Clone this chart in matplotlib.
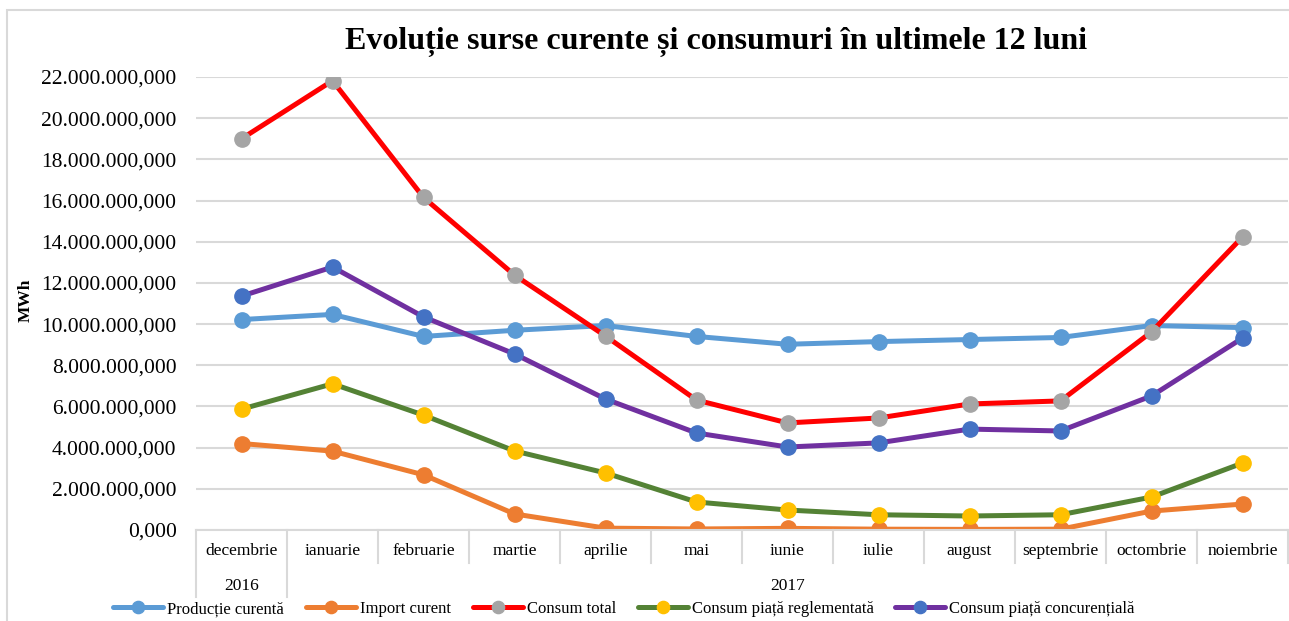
import matplotlib.pyplot as plt
from matplotlib.patches import Rectangle
from matplotlib.ticker import FuncFormatter

plt.rcParams['font.family'] = ['Liberation Serif', 'DejaVu Serif']

luni = ['decembrie', 'ianuarie', 'februarie', 'martie', 'aprilie', 'mai',
        'iunie', 'iulie', 'august', 'septembrie', 'octombrie', 'noiembrie']
ani = ['2016', '2017']
ani_nr_luni = [1, 11]

# milioane MWh
productie = [10.22, 10.47, 9.40, 9.70, 9.93, 9.40, 9.02, 9.15, 9.25, 9.35, 9.93, 9.83]
import_cur = [4.20, 3.83, 2.68, 0.78, 0.09, 0.05, 0.08, 0.04, 0.03, 0.04, 0.92, 1.26]
consum_total = [19.0, 21.82, 16.15, 12.38, 9.42, 6.31, 5.20, 5.44, 6.12, 6.27, 9.62, 14.23]
reglementata = [5.87, 7.10, 5.58, 3.84, 2.77, 1.36, 0.97, 0.74, 0.68, 0.74, 1.60, 3.25]
concurentiala = [11.36, 12.77, 10.35, 8.55, 6.36, 4.71, 4.03, 4.23, 4.90, 4.81, 6.51, 9.32]

serii = [
    ('Producție curentă', productie, '#5B9BD5', '#5B9BD5'),
    ('Import curent', import_cur, '#ED7D31', '#ED7D31'),
    ('Consum total', consum_total, '#FF0000', '#A5A5A5'),
    ('Consum piață reglementată', reglementata, '#548235', '#FFC000'),
    ('Consum piață concurențială', concurentiala, '#7030A0', '#4472C4'),
]

W, H = 1289, 621
fig = plt.figure(figsize=(W / 100, H / 100), dpi=100)
ax = fig.add_axes([196 / W, 1 - 530 / H, (1288 - 196) / W, (530 - 77) / H])

fig.patches.append(Rectangle((7 / W, -0.1), 1.2, 1 - 10 / H + 0.1, transform=fig.transFigure,
                             fill=False, edgecolor='#D9D9D9', linewidth=1.5))

x = list(range(len(luni)))
for nume, vals, culoare, marker_c in serii:
    ax.plot(x, [v * 1e6 for v in vals], color=culoare, linewidth=3.6, marker='o',
            markersize=11, markerfacecolor=marker_c, markeredgecolor=marker_c,
            label=nume, solid_capstyle='round')

ax.set_xlim(-0.5, len(luni) - 0.5)
ax.set_ylim(0, 22e6)
ax.set_yticks([i * 2e6 for i in range(12)])


def fmt(v, pos):
    s = f"{v:,.3f}"
    return s.replace(',', 'X').replace('.', ',').replace('X', '.')


ax.yaxis.set_major_formatter(FuncFormatter(fmt))
ax.tick_params(axis='y', length=0, pad=14, labelsize=15.5)
ax.set_xticks([])
ax.grid(axis='y', color='#D9D9D9', linewidth=1.5)
ax.set_axisbelow(True)
for s in ['left', 'right', 'top']:
    ax.spines[s].set_visible(False)
ax.spines['bottom'].set_color('#D9D9D9')
ax.spines['bottom'].set_linewidth(1.5)

# etichete pe doua niveluri
h = 530 - 77
w = 1288 - 196
trans = ax.get_xaxis_transform()
for i, l in enumerate(luni):
    ax.text(i, -21 / h, l, transform=trans, ha='center', va='center', fontsize=12.5)
start = -0.5
limite_lungi = [-0.5]
for an, n in zip(ani, ani_nr_luni):
    ax.text(start + n / 2, -56 / h, an, transform=trans, ha='center', va='center', fontsize=12.5)
    start += n
    limite_lungi.append(start)
for i in range(len(luni) + 1):
    b = i - 0.5
    jos = -67 / h if b in limite_lungi[:-1] else -33 / h
    ax.plot([b, b], [0, jos], transform=trans, color='#D9D9D9', linewidth=1.5, clip_on=False)

ax.set_ylabel('MWh', fontsize=12.5, fontweight='bold')
ax.yaxis.set_label_coords((34 - 196) / w, (530 - 300) / h)

fig.text(716 / W, 1 - 42 / H, 'Evoluție surse curente și consumuri în ultimele 12 luni',
         ha='center', va='center', fontsize=23, fontweight='bold')

fig.legend(loc='center', bbox_to_anchor=(624 / W, 1 - 609 / H), ncol=5, frameon=False,
           fontsize=12, handlelength=3.0, handletextpad=0.25, columnspacing=1.3,
           borderaxespad=0, numpoints=1, markerscale=0.8)

fig.savefig('out.png', dpi=100)
